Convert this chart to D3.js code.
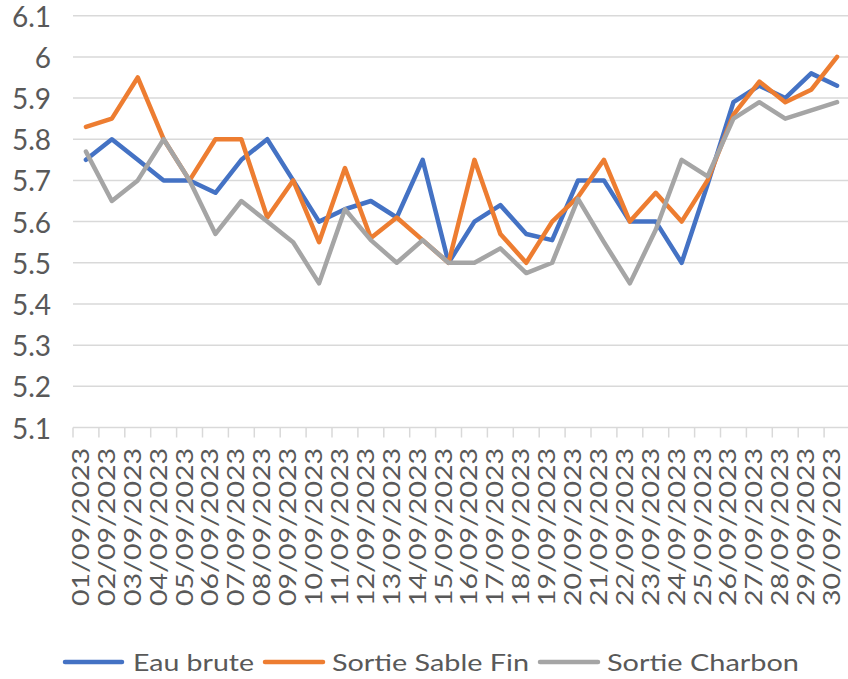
<!DOCTYPE html>
<html>
<head>
<meta charset="utf-8">
<script src="https://cdn.jsdelivr.net/npm/d3@7/dist/d3.min.js"></script>
<style>
  html, body { margin: 0; padding: 0; background: #fff; }
  svg { display: block; }
  text { font-family: Lato, "Open Sans", sans-serif; fill: #595959; }
</style>
</head>
<body>
<svg id="chart" width="848" height="679"></svg>
<script>
const dates = ["01/09/2023","02/09/2023","03/09/2023","04/09/2023","05/09/2023","06/09/2023","07/09/2023","08/09/2023","09/09/2023","10/09/2023",
  "11/09/2023","12/09/2023","13/09/2023","14/09/2023","15/09/2023","16/09/2023","17/09/2023","18/09/2023","19/09/2023","20/09/2023",
  "21/09/2023","22/09/2023","23/09/2023","24/09/2023","25/09/2023","26/09/2023","27/09/2023","28/09/2023","29/09/2023","30/09/2023"];
const eauBrute = [5.75,5.80,5.75,5.70,5.70,5.67,5.75,5.80,5.70,5.60,5.63,5.65,5.61,5.75,5.50,5.60,5.64,5.57,5.555,5.70,5.70,5.60,5.60,5.50,5.69,5.89,5.93,5.90,5.96,5.93];
const sortieSableFin = [5.83,5.85,5.95,5.80,5.70,5.80,5.80,5.61,5.70,5.55,5.73,5.56,5.61,5.555,5.50,5.75,5.57,5.50,5.60,5.66,5.75,5.60,5.67,5.60,5.70,5.86,5.94,5.89,5.92,6.00];
const sortieCharbon = [5.77,5.65,5.70,5.80,5.70,5.57,5.65,5.60,5.55,5.45,5.63,5.555,5.50,5.555,5.50,5.50,5.535,5.475,5.50,5.655,5.55,5.45,5.58,5.75,5.71,5.85,5.89,5.85,5.87,5.89];
const yTicks = [5.1,5.2,5.3,5.4,5.5,5.6,5.7,5.8,5.9,6,6.1];
const seriesNames = ["Eau brute","Sortie Sable Fin","Sortie Charbon"];
const seriesColors = ["#4472C4","#ED7D31","#A5A5A5"];

const series = [eauBrute, sortieSableFin, sortieCharbon];
const svg = d3.select("#chart");

const x = d3.scaleBand().domain(dates).range([73, 850]);
const y = d3.scaleLinear().domain([5.1, 6.1]).range([427.5, 15.7]);

// gridlines
svg.append("g").selectAll("line").data(yTicks.slice(1)).join("line")
  .attr("x1", 73).attr("x2", 850)
  .attr("y1", d => y(d)).attr("y2", d => y(d))
  .attr("stroke", "#d9d9d9").attr("stroke-width", 1.5);

// y labels
svg.append("g").selectAll("text").data(yTicks).join("text")
  .attr("x", 51).attr("y", d => y(d))
  .attr("text-anchor", "end").attr("dominant-baseline", "central")
  .attr("font-size", 28)
  .text(d => d3.format("")(d));

// x axis line + ticks
const xg = svg.append("g");
xg.append("line").attr("x1", 73).attr("x2", 850)
  .attr("y1", y(5.1)).attr("y2", y(5.1))
  .attr("stroke", "#d9d9d9").attr("stroke-width", 1.5);
const tickPos = dates.map(d => x(d)).concat([x(dates[dates.length-1]) + x.bandwidth()]);
xg.selectAll("line.tk").data(tickPos).join("line").attr("class","tk")
  .attr("x1", d => d).attr("x2", d => d)
  .attr("y1", y(5.1)).attr("y2", y(5.1) + 10)
  .attr("stroke", "#d9d9d9").attr("stroke-width", 1.5);

// x labels
xg.selectAll("text").data(dates).join("text")
  .attr("transform", d => `translate(${x(d) + x.bandwidth()/2 + 3},448) rotate(-90)`)
  .attr("text-anchor", "end")
  .attr("font-size", 23.5)
  .attr("textLength", 158).attr("lengthAdjust", "spacingAndGlyphs")
  .text(d => d);

// lines
const line = d3.line()
  .x((d, i) => x(dates[i]) + x.bandwidth()/2)
  .y(d => y(d));
svg.append("g").selectAll("path").data(series).join("path")
  .attr("d", d => line(d))
  .attr("fill", "none")
  .attr("stroke", (d, i) => seriesColors[i])
  .attr("stroke-width", 4.5)
  .attr("stroke-linejoin", "round")
  .attr("stroke-linecap", "round");

// legend
const legendLines = [[65,122],[265,323],[540,598]];
const legendText = [[133,121],[332,197],[607,192]];
const lg = svg.append("g");
seriesNames.forEach((n, i) => {
  lg.append("line")
    .attr("x1", legendLines[i][0]).attr("x2", legendLines[i][1])
    .attr("y1", 662).attr("y2", 662)
    .attr("stroke", seriesColors[i]).attr("stroke-width", 4.5)
    .attr("stroke-linecap", "round");
  lg.append("text")
    .attr("x", legendText[i][0]).attr("y", 671)
    .attr("font-size", 24)
    .attr("textLength", legendText[i][1]).attr("lengthAdjust", "spacingAndGlyphs")
    .text(n);
});
</script>
</body>
</html>
